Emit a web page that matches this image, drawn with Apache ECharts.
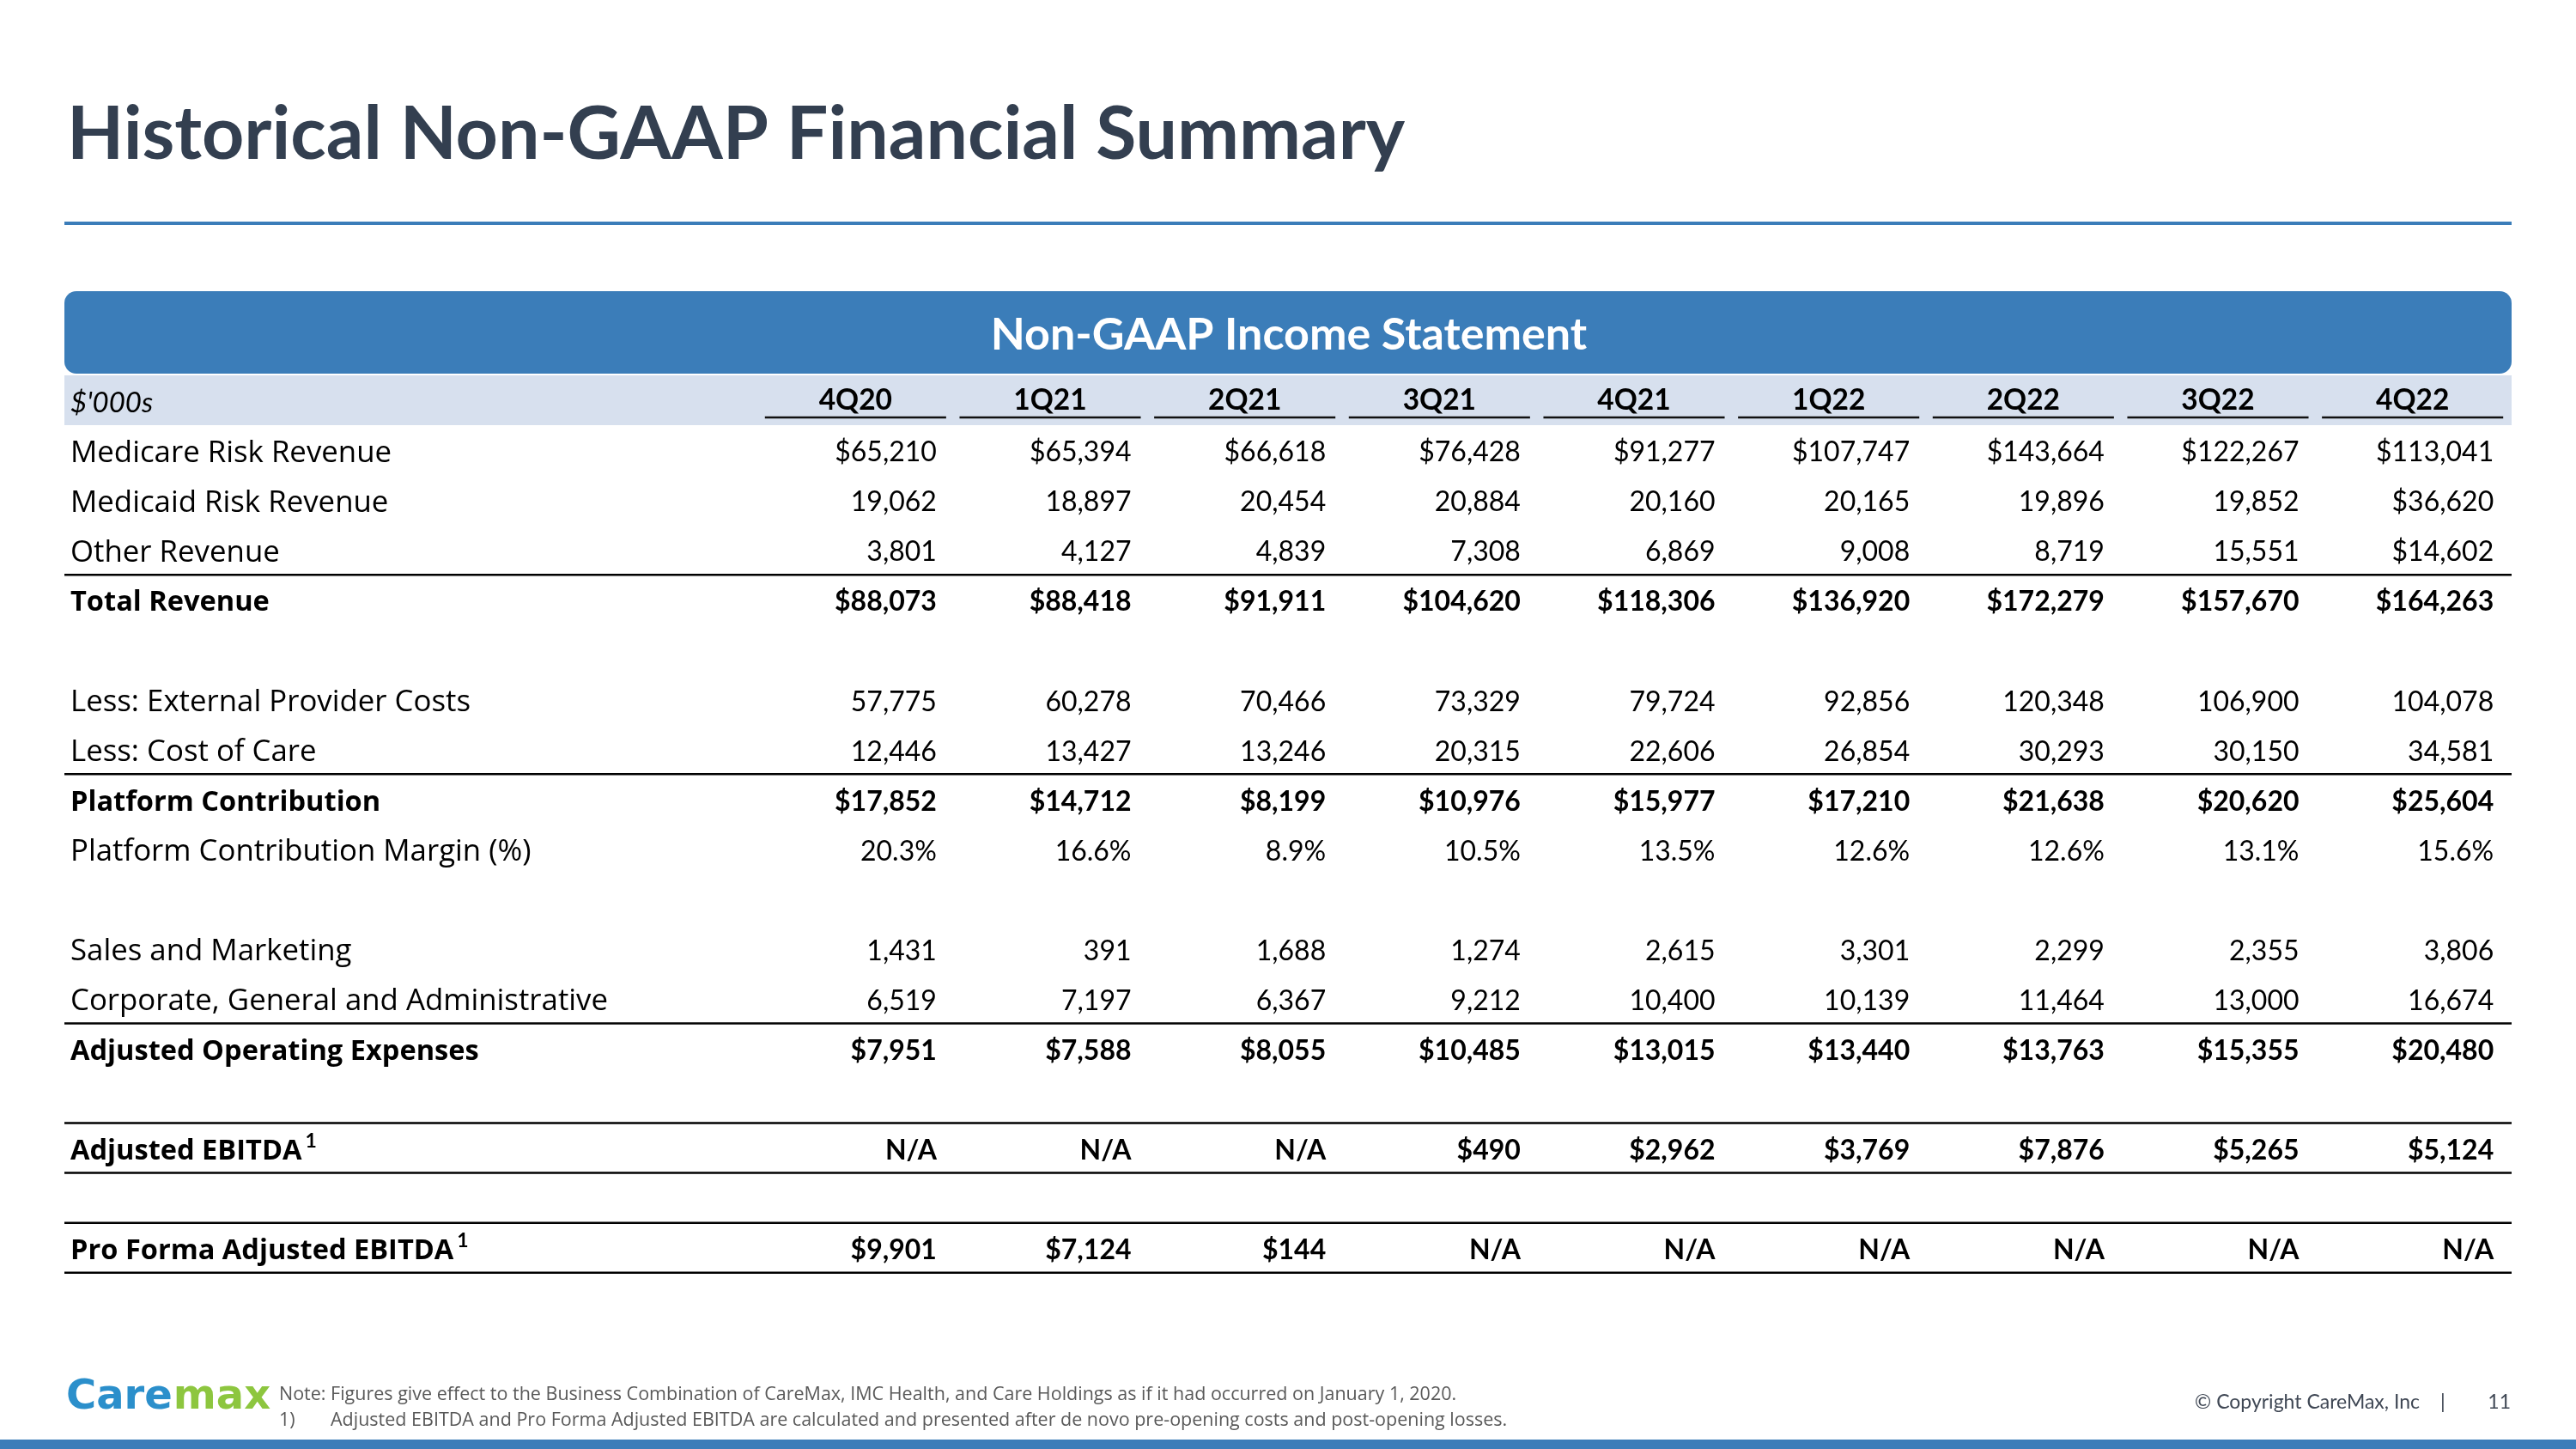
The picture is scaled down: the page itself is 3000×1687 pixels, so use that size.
<!DOCTYPE html>
<html>
<head>
<meta charset="utf-8">
<script src="https://cdn.jsdelivr.net/npm/echarts@6/dist/echarts.min.js"></script>
<style>
html,body{margin:0;padding:0;background:#fff;}
#c{width:3000px;height:1687px;}
</style>
</head>
<body>
<div id="c"></div>
<script>
// ---------------- DATA ----------------
const quarters = ['4Q20','1Q21','2Q21','3Q21','4Q21','1Q22','2Q22','3Q22','4Q22'];

const medicareRisk          = ['$65,210','$65,394','$66,618','$76,428','$91,277','$107,747','$143,664','$122,267','$113,041'];
const medicaidRisk          = ['19,062','18,897','20,454','20,884','20,160','20,165','19,896','19,852','$36,620'];
const otherRevenue          = ['3,801','4,127','4,839','7,308','6,869','9,008','8,719','15,551','$14,602'];
const totalRevenue          = ['$88,073','$88,418','$91,911','$104,620','$118,306','$136,920','$172,279','$157,670','$164,263'];
const externalProviderCosts = ['57,775','60,278','70,466','73,329','79,724','92,856','120,348','106,900','104,078'];
const costOfCare            = ['12,446','13,427','13,246','20,315','22,606','26,854','30,293','30,150','34,581'];
const platformContribution  = ['$17,852','$14,712','$8,199','$10,976','$15,977','$17,210','$21,638','$20,620','$25,604'];
const platformMargin        = ['20.3%','16.6%','8.9%','10.5%','13.5%','12.6%','12.6%','13.1%','15.6%'];
const salesMarketing        = ['1,431','391','1,688','1,274','2,615','3,301','2,299','2,355','3,806'];
const corporateGA           = ['6,519','7,197','6,367','9,212','10,400','10,139','11,464','13,000','16,674'];
const adjOperatingExpenses  = ['$7,951','$7,588','$8,055','$10,485','$13,015','$13,440','$13,763','$15,355','$20,480'];
const adjustedEbitda        = ['N/A','N/A','N/A','$490','$2,962','$3,769','$7,876','$5,265','$5,124'];
const proFormaAdjEbitda     = ['$9,901','$7,124','$144','N/A','N/A','N/A','N/A','N/A','N/A'];

const unitsLabel = "$'000s";
const tableTitle = 'Non-GAAP Income Statement';
const pageTitle = 'Historical Non-GAAP Financial Summary';
const noteLine1 = 'Note: Figures give effect to the Business Combination of CareMax, IMC Health, and Care Holdings as if it had occurred on January 1, 2020.';
const noteLine2 = 'Adjusted EBITDA and Pro Forma Adjusted EBITDA are calculated and presented after de novo pre-opening costs and post-opening losses.';

// table rows (row 0 = header)
const rows = [
  {label: unitsLabel, header: true},
  {label: 'Medicare Risk Revenue', values: medicareRisk},
  {label: 'Medicaid Risk Revenue', values: medicaidRisk},
  {label: 'Other Revenue', values: otherRevenue},
  {label: 'Total Revenue', values: totalRevenue, bold: true},
  {label: ''},
  {label: 'Less: External Provider Costs', values: externalProviderCosts},
  {label: 'Less: Cost of Care', values: costOfCare},
  {label: 'Platform Contribution', values: platformContribution, bold: true},
  {label: 'Platform Contribution Margin (%)', values: platformMargin},
  {label: ''},
  {label: 'Sales and Marketing', values: salesMarketing},
  {label: 'Corporate, General and Administrative', values: corporateGA},
  {label: 'Adjusted Operating Expenses', values: adjOperatingExpenses, bold: true},
  {label: ''},
  {label: 'Adjusted EBITDA', values: adjustedEbitda, bold: true, sup: '1'},
  {label: ''},
  {label: 'Pro Forma Adjusted EBITDA', values: proFormaAdjEbitda, bold: true, sup: '1'}
];
// rules drawn on the top edge of these row indices (18 = bottom of last row)
const ruleEdges = [4, 8, 13, 15, 16, 17, 18];

// ---------------- BUILD ----------------
const FONT = 'Lato';
const LABEL_FONT = 'Open Sans';
const rowIds = rows.map((r, i) => String(i));

const cellItems = [];
rows.forEach((r, ri) => {
  if (r.values) r.values.forEach((v, ci) => cellItems.push({value: [ci, ri], text: v, bold: !!r.bold}));
});
const headerItems = quarters.map((q, ci) => ({value: [ci, 0], text: q}));
const labelItems = [];
rows.forEach((r, ri) => { if (r.label) labelItems.push({value: [0, ri], row: r}); });

const chart = echarts.init(document.getElementById('c'), null, {renderer: 'canvas'});

const DY = 3; // text baseline nudge

const option = {
  backgroundColor: '#ffffff',
  animation: false,
  grid: [
    {left: 883, right: 77, top: 437, height: 1044.7, containLabel: false},
    {left: 75, right: 75, top: 437, height: 1044.7, containLabel: false}
  ],
  xAxis: [
    {type: 'category', gridIndex: 0, data: quarters, show: false},
    {type: 'value', gridIndex: 1, min: 0, max: 1, show: false}
  ],
  yAxis: [
    {type: 'category', gridIndex: 0, data: rowIds, inverse: true, show: false},
    {type: 'category', gridIndex: 1, data: rowIds, inverse: true, show: false}
  ],
  graphic: [
    // page title
    {type: 'text', left: 78, top: 114, z: 10,
      style: {text: pageTitle, fontFamily: FONT, fontWeight: 'bold', fontSize: 86, fill: '#333F50'}},
    // title rule
    {type: 'rect', shape: {x: 75, y: 258, width: 2850, height: 4}, style: {fill: '#3B7DB9'}},
    // banner
    {type: 'rect', shape: {x: 75, y: 339, width: 2850, height: 96, r: 14}, style: {fill: '#3B7DB9'}},
    {type: 'text', x: 1501, y: 390, z: 10,
      style: {text: tableTitle, fontFamily: FONT, fontWeight: 'bold', fontSize: 52, fill: '#ffffff', align: 'center', verticalAlign: 'middle'}},
    // logo
    {type: 'text', x: 77, y: 1628, z: 10,
      style: {text: '{c|Care}{m|max}', verticalAlign: 'middle', align: 'left',
        rich: {
          c: {fontFamily: 'DejaVu Sans', fontWeight: 'bold', fontSize: 48, fill: '#2B8FCB'},
          m: {fontFamily: 'DejaVu Sans', fontWeight: 'bold', fontSize: 48, fill: '#8DC63F', padding: [0, 0, 0, 1]}
        }}},
    // notes
    {type: 'text', x: 325, y: 1624, style: {text: noteLine1, fontFamily: LABEL_FONT, fontSize: 21.5, fill: '#595959', verticalAlign: 'middle'}},
    {type: 'text', x: 325, y: 1654, style: {text: '1)', fontFamily: LABEL_FONT, fontSize: 21.5, fill: '#595959', verticalAlign: 'middle'}},
    {type: 'text', x: 385, y: 1654, style: {text: noteLine2, fontFamily: LABEL_FONT, fontSize: 21.5, fill: '#595959', verticalAlign: 'middle'}},
    // copyright
    {type: 'text', x: 2818, y: 1633, style: {text: '\u00A9 Copyright CareMax, Inc', fontFamily: FONT, fontSize: 23, fill: '#3F4754', align: 'right', verticalAlign: 'middle'}},
    {type: 'text', x: 2845, y: 1633, style: {text: '|', fontFamily: FONT, fontSize: 23, fill: '#3F4754', align: 'center', verticalAlign: 'middle'}},
    {type: 'text', x: 2924, y: 1633, style: {text: '11', fontFamily: FONT, fontSize: 23, fill: '#3F4754', align: 'right', verticalAlign: 'middle'}},
    // bottom bar
    {type: 'rect', shape: {x: 0, y: 1676, width: 3000, height: 11}, style: {fill: '#3B7DB9'}}
  ],
  series: [
    // header band (light)
    {
      type: 'custom', xAxisIndex: 1, yAxisIndex: 1, silent: true, clip: false, z: 1,
      data: [[0, 0]],
      renderItem: function (params, api) {
        const a = api.coord([0, api.value(1)]);
        const b = api.coord([1, api.value(1)]);
        const h = api.size([0, 1])[1];
        return {type: 'rect', shape: {x: a[0], y: a[1] - h / 2, width: b[0] - a[0], height: h}, style: {fill: '#D7E0EE'}};
      }
    },
    // horizontal rules
    {
      type: 'custom', xAxisIndex: 1, yAxisIndex: 1, silent: true, clip: false, z: 3,
      data: ruleEdges.map(e => [0, e - 1]),
      renderItem: function (params, api) {
        const a = api.coord([0, api.value(1)]);
        const b = api.coord([1, api.value(1)]);
        const h = api.size([0, 1])[1];
        const y = a[1] + h / 2;
        return {type: 'line', shape: {x1: a[0], y1: y, x2: b[0], y2: y}, style: {stroke: '#000', lineWidth: 2.5}};
      }
    },
    // row labels
    {
      type: 'custom', xAxisIndex: 1, yAxisIndex: 1, silent: true, clip: false, z: 4,
      data: labelItems,
      renderItem: function (params, api) {
        const item = labelItems[params.dataIndex];
        const r = item.row;
        const p = api.coord([0, api.value(1)]);
        const weight = r.bold ? 'bold' : 'normal';
        const size = r.bold ? 32.6 : 34.8;
        const style = r.header
          ? {text: r.label, fontFamily: FONT, fontSize: 33, fontStyle: 'italic', fill: '#000'}
          : r.sup
            ? {text: '{t|' + r.label + '}{s|' + r.sup + '}',
               rich: {
                 t: {fontFamily: LABEL_FONT, fontSize: size, fontWeight: weight, fill: '#000', lineHeight: 48},
                 s: {fontFamily: FONT, fontSize: 23, fontWeight: weight, fill: '#000', lineHeight: 22, verticalAlign: 'top', padding: [0, 0, 0, 4]}
               }}
            : {text: r.label, fontFamily: LABEL_FONT, fontSize: size, fontWeight: weight, fill: '#000'};
        style.align = 'left';
        style.verticalAlign = 'middle';
        return {type: 'text', x: p[0] + 7, y: p[1] + DY + (r.header ? 0 : 1), style: style};
      }
    },
    // column headers with underline
    {
      type: 'custom', xAxisIndex: 0, yAxisIndex: 0, silent: true, clip: false, z: 4,
      data: headerItems,
      renderItem: function (params, api) {
        const item = headerItems[params.dataIndex];
        const p = api.coord([api.value(0), api.value(1)]);
        const w = api.size([1, 0])[0];
        const h = api.size([0, 1])[1];
        return {type: 'group', children: [
          {type: 'text', x: p[0], y: p[1], style: {text: item.text, fontFamily: FONT, fontSize: 33.5, fontWeight: 'bold', fill: '#000', align: 'center', verticalAlign: 'middle'}},
          {type: 'line', shape: {x1: p[0] - w * 0.4656, y1: p[1] + h * 0.345, x2: p[0] + w * 0.4656, y2: p[1] + h * 0.345}, style: {stroke: '#111', lineWidth: 2.5}}
        ]};
      }
    },
    // values
    {
      type: 'custom', xAxisIndex: 0, yAxisIndex: 0, silent: true, clip: false, z: 4,
      data: cellItems,
      renderItem: function (params, api) {
        const item = cellItems[params.dataIndex];
        const p = api.coord([api.value(0), api.value(1)]);
        const w = api.size([1, 0])[0];
        return {type: 'text', x: p[0] + w * 0.417, y: p[1] + DY, style: {
          text: item.text, fontFamily: FONT, fontSize: 32, fontWeight: item.bold ? 'bold' : 'normal',
          fill: '#000', align: 'right', verticalAlign: 'middle'}};
      }
    }
  ]
};
chart.setOption(option);
</script>
</body>
</html>
